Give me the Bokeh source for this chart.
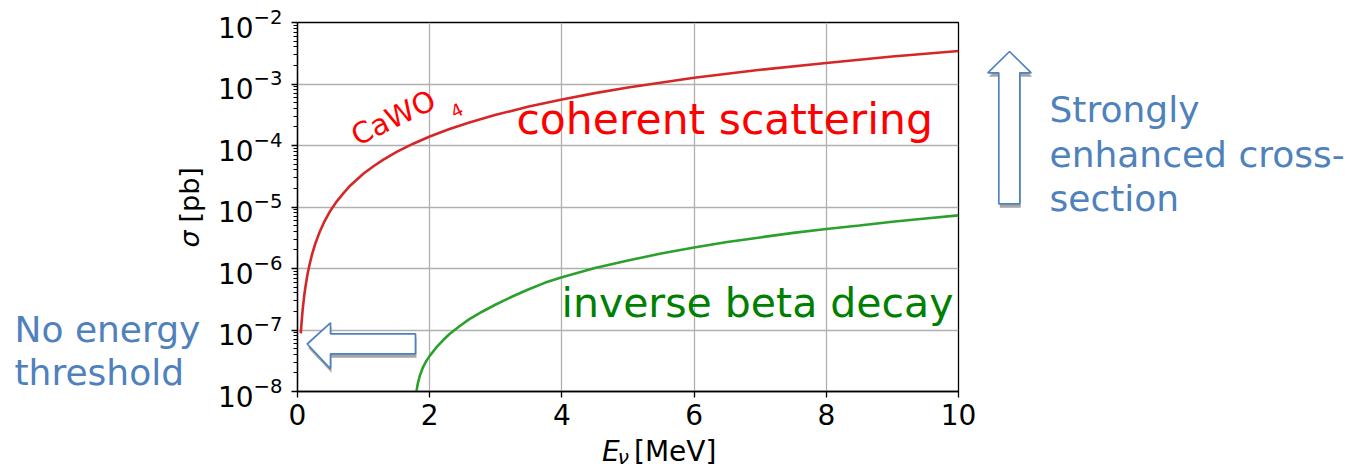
import numpy as np
from bokeh.plotting import figure
from bokeh.layouts import row, column
from bokeh.models import Range1d, FixedTicker, LogTickFormatter, Label, PolyAnnotation
from bokeh.embed import file_html
from bokeh.resources import INLINE

# ---- data ----
coh_E = [0.05, 0.06, 0.08, 0.1, 0.12, 0.15, 0.18, 0.22, 0.27, 0.33, 0.4, 0.5, 0.6, 0.7,
         0.8, 0.9, 1.0, 1.15, 1.3, 1.5, 1.75, 2.0, 2.3, 2.6, 3.0, 3.5, 4.0, 4.5, 5.0,
         6.0, 7.0, 8.0, 9.0, 10.0]
coh_sigma = [8.8e-8, 1.26e-7, 2.24e-7, 3.5e-7, 5.0e-7, 7.9e-7, 1.13e-6, 1.7e-6, 2.55e-6,
             3.8e-6, 5.6e-6, 8.8e-6, 1.26e-5, 1.7e-5, 2.24e-5, 2.8e-5, 3.5e-5, 4.6e-5,
             5.9e-5, 7.9e-5, 1.07e-4, 1.4e-4, 1.85e-4, 2.37e-4, 3.15e-4, 4.3e-4, 5.6e-4,
             7.1e-4, 8.8e-4, 1.26e-3, 1.7e-3, 2.2e-3, 2.8e-3, 3.45e-3]
ibd_E = [1.80, 1.82, 1.85, 1.9, 1.95, 2.0, 2.1, 2.2, 2.3, 2.45, 2.6, 2.8, 3.0, 3.25, 3.5,
         3.75, 4.0, 4.5, 5.0, 5.5, 6.0, 6.5, 7.0, 7.5, 8.0, 8.5, 9.0, 9.5, 10.0]
ibd_sigma = [1.0e-8, 1.35e-8, 1.8e-8, 2.5e-8, 3.15e-8, 3.8e-8, 5.2e-8, 6.8e-8, 8.6e-8,
             1.15e-7, 1.5e-7, 2.0e-7, 2.6e-7, 3.5e-7, 4.6e-7, 5.9e-7, 7.2e-7, 1.02e-6,
             1.35e-6, 1.75e-6, 2.2e-6, 2.7e-6, 3.2e-6, 3.8e-6, 4.4e-6, 5.0e-6, 5.75e-6,
             6.5e-6, 7.3e-6]
x_ticks = [0, 2, 4, 6, 8, 10]
y_ticks = [1e-8, 1e-7, 1e-6, 1e-5, 1e-4, 1e-3, 1e-2]

# ---- layout geometry (page pixels) ----
W, H = 1365, 468
LEFT_W = 212            # left text panel
MAIN_X1 = 978           # right edge of the chart panel
MAIN_H = 434            # chart panel height; x-axis title strip below
FX0, FX1 = 297.0, 958.0
FY0, FY1 = 22.0, 391.0
PX_PER_X = (FX1 - FX0) / 10.0
PX_PER_DEC = (FY1 - FY0) / 6.0
BASE_K = 0.35           # Bokeh draws "alphabetic" text this many em below its anchor


def dx(px):
    return (px - FX0) / PX_PER_X


def dy(py):
    return 10 ** (-2 - (py - FY0) / PX_PER_DEC)


ident = lambda v: v
BLUE = "#4f81bd"

# ---------------- main chart ----------------
p = figure(width=MAIN_X1 - LEFT_W, height=MAIN_H, x_range=Range1d(0, 10),
           y_range=Range1d(1e-8, 1e-2), y_axis_type="log", output_backend="svg",
           toolbar_location=None,
           min_border_left=int(FX0 - LEFT_W), min_border_right=int(MAIN_X1 - FX1),
           min_border_top=int(FY0), min_border_bottom=int(MAIN_H - FY1))
p.background_fill_color = "white"
p.border_fill_color = "white"
p.outline_line_color = "black"
p.outline_line_width = 1.3

minor = [m * 10.0 ** e for e in range(-8, -2) for m in range(2, 10)]
p.yaxis.ticker = FixedTicker(ticks=y_ticks, minor_ticks=minor)
p.xaxis.ticker = FixedTicker(ticks=x_ticks, minor_ticks=[])
p.yaxis.formatter = LogTickFormatter()

for ax in (p.xaxis[0], p.yaxis[0]):
    ax.axis_line_color = "black"
    ax.axis_line_width = 1.3
    ax.major_tick_line_color = "black"
    ax.major_tick_line_width = 1.3
    ax.major_tick_in = 0
    ax.major_tick_out = 6
    ax.minor_tick_line_color = "black"
    ax.minor_tick_line_width = 1.0
    ax.minor_tick_in = 0
    ax.minor_tick_out = 4
    ax.major_label_text_font = "DejaVu Sans"
    ax.major_label_text_font_size = "28px"
    ax.major_label_text_color = "black"
p.xaxis.major_label_standoff = 6
p.yaxis.major_label_standoff = 9

p.xgrid.grid_line_color = "#b0b0b0"
p.ygrid.grid_line_color = "#b0b0b0"
p.xgrid.grid_line_width = 1.3
p.ygrid.grid_line_width = 1.3

p.line(coh_E, coh_sigma, line_color="#d62728", line_width=2.6)
p.line(ibd_E, ibd_sigma, line_color="#2ca02c", line_width=2.6)


def lab(fig, text, bx, by, size, color, tx=ident, ty=ident, style="normal", angle=0.0):
    """Place text whose baseline starts at page pixel (bx, by)."""
    s = BASE_K * size
    ax_ = bx - s * np.sin(angle)
    ay_ = by - s * np.cos(angle)
    fig.add_layout(Label(x=tx(ax_), y=ty(ay_), text=text, text_font="DejaVu Sans",
                         text_font_size=f"{size}px", text_color=color,
                         text_font_style=style, text_align="left",
                         text_baseline="alphabetic", angle=angle))


lab(p, "coherent scattering", 516, 133.5, 42.5, "#ff0000", dx, dy)
lab(p, "inverse beta decay", 561, 317, 41, "#008000", dx, dy)
lab(p, "CaWO", 357, 146, 29, "#ff0000", dx, dy, angle=np.deg2rad(26))
lab(p, "4", 454, 118, 18, "#ff0000", dx, dy, angle=np.deg2rad(26))


def arrow(fig, pts, tx, ty):
    fig.add_layout(PolyAnnotation(xs=[tx(x + 1) for x, y in pts], ys=[ty(y + 4) for x, y in pts],
                                  fill_color="#a6a6a6", fill_alpha=1.0,
                                  line_color=None))
    fig.add_layout(PolyAnnotation(xs=[tx(x) for x, y in pts], ys=[ty(y) for x, y in pts],
                                  fill_color="white", fill_alpha=1.0,
                                  line_color=BLUE, line_width=1.7, line_alpha=1.0))


left_arrow = [(306.7, 343.5), (330, 322.3), (330, 333.3), (415, 333.3), (415, 353.3),
              (330, 353.3), (330, 368.3)]
arrow(p, left_arrow, dx, dy)


# ---------------- plain text panels (page-pixel coordinates) ----------------
def panel(x0, x1, y0, y1):
    f = figure(width=int(x1 - x0), height=int(y1 - y0), x_range=Range1d(x0, x1),
               y_range=Range1d(y1, y0), output_backend="svg", toolbar_location=None,
               min_border=0, x_axis_location=None, y_axis_location=None)
    f.grid.visible = False
    f.outline_line_color = None
    f.background_fill_color = "white"
    f.border_fill_color = "white"
    return f


left = panel(0, LEFT_W, 0, H)
lab(left, "No energy", 14, 341.7, 36, BLUE)
lab(left, "threshold", 14, 385, 36, BLUE)
lab(left, "σ", 198, 247, 27, "black", style="italic", angle=np.pi / 2)
lab(left, "[pb]", 198, 222, 27, "black", angle=np.pi / 2)

xlab = panel(LEFT_W, MAIN_X1, MAIN_H, H)
lab(xlab, "E", 565, 461, 28, "black", style="italic")
lab(xlab, "ν", 583, 463, 20, "black", style="italic")
lab(xlab, "[MeV]", 602, 461, 28, "black")

right = panel(MAIN_X1, W, 0, H)
lab(right, "Strongly", 1049, 121.7, 36, BLUE)
lab(right, "enhanced cross-", 1049, 166.7, 36, BLUE)
lab(right, "section", 1049, 210.7, 36, BLUE)
up_arrow = [(1009, 51), (1030.7, 72.3), (1019.3, 72.3), (1019.3, 203.3), (998.3, 203.3),
            (998.3, 72.3), (987.3, 72.3)]
arrow(right, up_arrow, ident, ident)

layout = row(left, column(p, xlab, spacing=0), right, spacing=0)
open("out.html", "w").write(file_html(layout, INLINE))
